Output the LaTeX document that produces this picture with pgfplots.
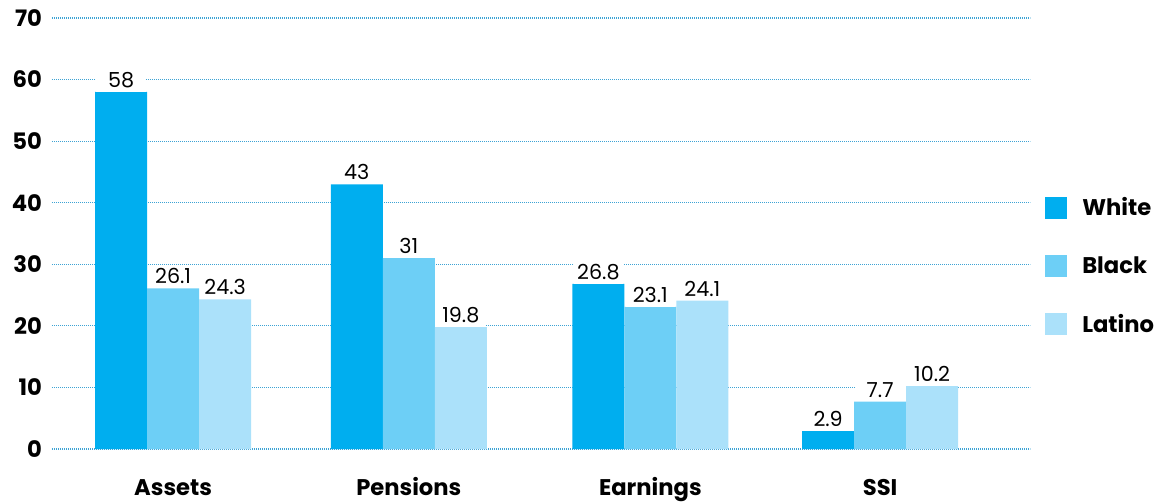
\documentclass[border=0pt]{standalone}
\usepackage{fontspec}
\setmainfont{Poppins}
\usepackage{pgfplots}
\pgfplotsset{compat=1.18}
\definecolor{cwhite}{HTML}{00AEEF}
\definecolor{cblack}{HTML}{6DCFF6}
\definecolor{clatino}{HTML}{ABE1FA}
\definecolor{cgrid}{HTML}{3DA3D5}

\begin{document}
\begin{tikzpicture}
\useasboundingbox (-39pt,-39pt) rectangle (834pt,336.75pt);
\begin{axis}[
    at={(0,0)}, anchor=south west,
    scale only axis,
    width=733.5pt, height=323.25pt,
    ybar=0pt,
    bar width=39pt,
    ymin=0, ymax=70,
    ytick={0,10,...,70},
    xmin=-0.514, xmax=3.636,
    xtick={0,1,2.025,3},
    xticklabels={Assets,Pensions,Earnings,SSI},
    axis line style={draw=none},
    major tick length=0pt,
    ymajorgrids,
    grid style={cgrid, line width=0.8pt, dash pattern=on 0.8pt off 0.7pt},
    tick label style={font=\fontsize{17}{20}\selectfont\bfseries},
    yticklabel style={xshift=-4pt},
    xticklabel style={anchor=base, yshift=-34.5pt},
    /pgf/number format/assume math mode=true,
    nodes near coords,
    every node near coord/.append style={font=\fontsize{15.5}{18}\selectfont, fill=white, inner xsep=1pt, inner ysep=3pt, minimum width=37pt},
    legend style={at={(1,0.425)}, anchor=west, xshift=8pt, draw=none,
        font=\fontsize{17}{20}\selectfont\bfseries, row sep=25pt,
        legend cell align=left},
    legend image code/.code={\fill (0pt,-8.25pt) rectangle (16.5pt,8.25pt); \path (26pt,0pt);},
]
\addplot[fill=cwhite, draw=none] coordinates {(0,58) (1,43) (2.025,26.8) (3,2.9)};
\addplot[fill=cblack, draw=none] coordinates {(0,26.1) (1,31) (2.025,23.1) (3,7.7)};
\addplot[fill=clatino, draw=none] coordinates {(0,24.3) (1,19.8) (2.025,24.1) (3,10.2)};
\legend{White, Black, Latino}
\end{axis}
\end{tikzpicture}
\end{document}
